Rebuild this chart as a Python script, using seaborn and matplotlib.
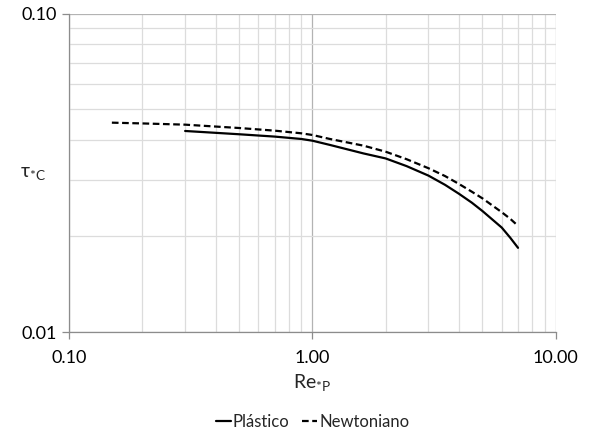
import numpy as np
import pandas as pd
import matplotlib
matplotlib.use("Agg")
import matplotlib.pyplot as plt
import seaborn as sns
from matplotlib.ticker import LogLocator, FixedLocator, FuncFormatter, NullFormatter

# Data
re_plastico = [0.30, 0.50, 0.70, 0.90, 1.00, 1.18, 1.62, 2.00, 2.44, 3.00, 3.51, 4.00, 4.52, 5.00, 6.00, 6.50, 7.00]
tau_plastico = [0.0428, 0.0418, 0.0411, 0.0404, 0.0399, 0.0387, 0.0364, 0.0351, 0.0332, 0.0310, 0.0290,
                0.0272, 0.0255, 0.0240, 0.0213, 0.0198, 0.0184]
re_newton = [0.15, 0.20, 0.30, 0.50, 0.70, 0.90, 1.00, 1.18, 1.62, 2.00, 2.44, 3.00, 3.51, 4.00, 4.52, 5.00, 6.00, 6.50, 7.00]
tau_newton = [0.04545, 0.0452, 0.0448, 0.04373, 0.0429, 0.04209, 0.04158, 0.0404, 0.0385, 0.03685, 0.0349,
              0.0327, 0.0309, 0.0292, 0.0276, 0.0263, 0.0238, 0.0227, 0.02156]
series_names = ["Plástico", "Newtoniano"]
x_ticks = [0.1, 1.0, 10.0]
y_ticks = [0.01, 0.1]

df = pd.concat([
    pd.DataFrame({"Re": re_plastico, "tau": tau_plastico, "serie": series_names[0]}),
    pd.DataFrame({"Re": re_newton, "tau": tau_newton, "serie": series_names[1]}),
], ignore_index=True)

sns.set_style("white")
plt.rcParams['font.family'] = ['Lato', 'DejaVu Sans']
plt.rcParams['mathtext.default'] = 'regular'
plt.rcParams['lines.solid_joinstyle'] = 'round'
plt.rcParams['lines.dash_joinstyle'] = 'round'

fig = plt.figure(figsize=(5.95, 4.36), dpi=100)
ax = fig.add_axes([0.116, 0.238, 0.818, 0.731])

sns.lineplot(data=df, x="Re", y="tau", hue="serie", style="serie",
             palette=["black", "black"], dashes={series_names[0]: "", series_names[1]: (3, 1.6)},
             linewidth=1.6, ax=ax, sort=False, estimator=None)

ax.set_xscale("log")
ax.set_yscale("log")
ax.set_xlim(0.1, 10)
ax.set_ylim(0.01, 0.1)

ax.xaxis.set_major_locator(FixedLocator(x_ticks))
ax.yaxis.set_major_locator(FixedLocator(y_ticks))
ax.xaxis.set_minor_locator(LogLocator(base=10, subs=np.arange(2, 10)))
ax.yaxis.set_minor_locator(LogLocator(base=10, subs=np.arange(2, 10)))
ax.xaxis.set_major_formatter(FuncFormatter(lambda v, p: f"{v:.2f}"))
ax.yaxis.set_major_formatter(FuncFormatter(lambda v, p: f"{v:.2f}"))
ax.xaxis.set_minor_formatter(NullFormatter())
ax.yaxis.set_minor_formatter(NullFormatter())

ax.grid(which="major", color="#b3b3b3", linewidth=0.9)
ax.grid(which="minor", color="#dcdcdc", linewidth=0.9)
ax.set_axisbelow(True)

for s in ["top", "right"]:
    ax.spines[s].set_visible(False)
for s in ["left", "bottom"]:
    ax.spines[s].set_color("#8c8c8c")
    ax.spines[s].set_linewidth(0.9)

ax.tick_params(which="major", direction="out", length=5, width=0.9, color="#8c8c8c",
               labelsize=13, labelcolor="black", pad=4, left=True, bottom=True)
ax.tick_params(which="minor", length=0)
ax.tick_params(axis="x", pad=8)

ax.set_xlabel("Re$_{*P}$", fontsize=14, labelpad=4)
ax.set_ylabel("τ$_{*C}$", fontsize=14, rotation=0, labelpad=10)
ax.yaxis.set_label_coords(-0.075, 0.47)

handles, labels = ax.get_legend_handles_labels()
leg = ax.legend(handles, labels, loc="upper center", bbox_to_anchor=(0.5, -0.236),
                ncol=2, frameon=False, fontsize=12, handlelength=0.9, handletextpad=0.1,
                columnspacing=0.8, borderaxespad=0)

fig.savefig("out.png", dpi=100)
